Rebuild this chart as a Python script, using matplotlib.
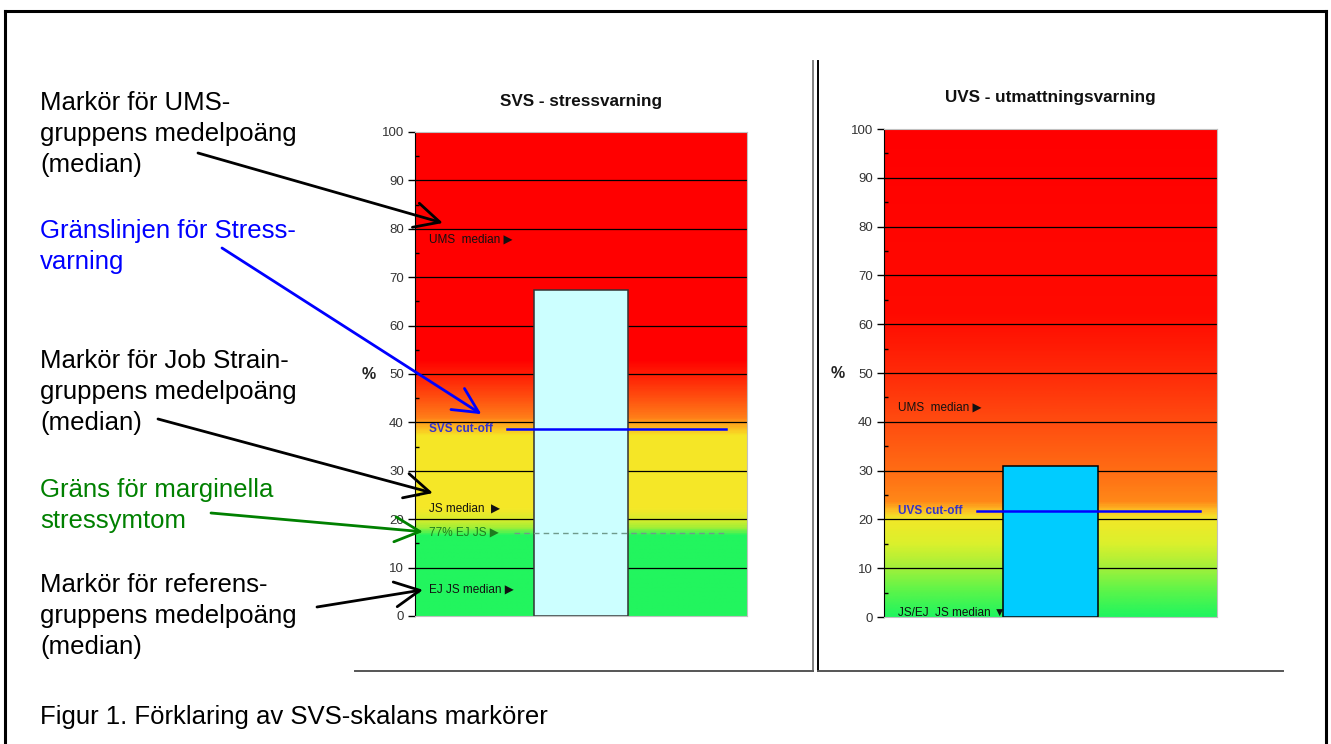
import numpy as np
import matplotlib
matplotlib.use('Agg')
import matplotlib.pyplot as plt
from matplotlib.colors import LinearSegmentedColormap
from matplotlib.lines import Line2D
import matplotlib.transforms as mtransforms

plt.rcParams['font.family'] = ['Liberation Sans', 'DejaVu Sans']

# data
chart_titles = ['SVS - stressvarning', 'UVS - utmattningsvarning']
bar_values = [67.3, 31.0]
bar_colors = ['#ccffff', '#00ccff']
cutoff_labels = ['SVS cut-off', 'UVS cut-off']
cutoff_values = [38.6, 21.8]
marginal_label = '77% EJ JS \u25b6'
marginal_value = 17.2
svs_marker_labels = ['UMS  median \u25b6', 'JS median  \u25b6', 'EJ JS median \u25b6']
svs_marker_values = [77.7, 22.3, 5.4]
uvs_marker_labels = ['UMS  median \u25b6', 'JS/EJ  JS median \u25bc']
uvs_marker_values = [43.0, 0.9]
y_ticks = list(range(0, 101, 10))

left_notes = [
    (['Markör för UMS-', 'gruppens medelpoäng', '(median)'], 'black', 110),
    (['Gränslinjen för Stress-', 'varning'], '#0000ff', 238),
    (['Markör för Job Strain-', 'gruppens medelpoäng', '(median)'], 'black', 368),
    (['Gräns för marginella', 'stressymtom'], '#008000', 497),
    (['Markör för referens-', 'gruppens medelpoäng', '(median)'], 'black', 592),
]
caption = 'Figur 1. Förklaring av SVS-skalans markörer'

# background colour ramps (value, colour)
svs_ramp = [(0, '#22f55e'), (16.5, '#22f55e'), (18.2, '#a6ef36'), (20, '#dcec2c'),
            (22, '#f5e828'), (37.2, '#f6e626'), (39.5, '#ffa81e'), (41, '#ff7c18'),
            (45, '#ff5010'), (50, '#ff1c04'), (53, '#ff0000'), (100, '#ff0000')]
uvs_ramp = [(0, '#22f55e'), (5, '#5af54a'), (10, '#a4f03a'), (15, '#dcf02c'),
            (20, '#f2e828'), (21.5, '#fcc424'), (23.5, '#ff8818'), (30, '#ff6c14'),
            (40, '#ff4c10'), (50, '#ff2a08'), (62, '#ff0a00'), (100, '#ff0000')]

W, H = 1331, 744
fig = plt.figure(figsize=(W / 100, H / 100), dpi=100)
fig.patch.set_facecolor('white')


def fx(x):
    return x / W


def fy(y):
    return 1 - y / H


def make_chart(rect, title, value, color, edge, ramp, cut_label, cut_value, cut_span):
    ax = fig.add_axes(rect)
    cmap = LinearSegmentedColormap.from_list('bg', [(v / 100, c) for v, c in ramp])
    grad = np.linspace(0, 100, 600).reshape(-1, 1)
    ax.imshow(grad, cmap=cmap, extent=(-0.5, 0.5, 0, 100), origin='lower',
              aspect='auto', zorder=0, interpolation='bilinear')
    ax.set_xlim(-0.5, 0.5)
    ax.set_ylim(0, 100)
    ax.hlines(y_ticks[1:-1], -0.5, 0.5, color='black', lw=0.9, zorder=1)
    ax.bar([0], [value], width=0.285, color=color, edgecolor=edge, lw=1.1, zorder=2)
    ax.axhline(cut_value, xmin=cut_span[0], xmax=cut_span[1], color='#0000ff', lw=1.8, zorder=3)
    trans = mtransforms.blended_transform_factory(ax.transAxes, ax.transData)
    ax.text(0.042, cut_value, cut_label, transform=trans, color='#3333cc', fontsize=8.5,
            fontweight='bold', va='center', ha='left', zorder=4)
    ax.set_yticks(y_ticks)
    ax.set_yticks(range(5, 100, 10), minor=True)
    ax.tick_params(axis='y', which='major', direction='out', length=5, width=1,
                   labelsize=9.5, labelcolor='#333333', pad=3)
    ax.tick_params(axis='y', which='minor', direction='in', length=3, width=1)
    ax.set_xticks([])
    ax.spines['left'].set_color('black')
    for s in ['top', 'right', 'bottom']:
        ax.spines[s].set_color('#c0c0c0')
    ax.text(0.5, 1.064, title, transform=ax.transAxes, ha='center', va='center',
            fontsize=12.3, fontweight='bold', color='#111111')
    ax.text(-0.14, 49.8, '%', transform=trans, ha='center', va='center',
            fontsize=11.5, fontweight='bold', color='#222222')
    return ax, trans


ax1, t1 = make_chart([fx(415), fy(616), fx(747) - fx(415), fy(132) - fy(616)],
                     chart_titles[0], bar_values[0], bar_colors[0], '#333333', svs_ramp,
                     cutoff_labels[0], cutoff_values[0], (0.276, 0.937))
for lab, v in zip(svs_marker_labels, svs_marker_values):
    ax1.text(0.042, v, lab, transform=t1, fontsize=8.5, color='#111111', va='center', ha='left')
ax1.axhline(marginal_value, xmin=0.297, xmax=0.935, color='#6f9a8c', lw=1, ls=(0, (4, 3)), zorder=3)
ax1.text(0.042, marginal_value, marginal_label, transform=t1, fontsize=8.5, color='#1f7a1f',
         va='center', ha='left')

ax2, t2 = make_chart([fx(884), fy(617), fx(1217) - fx(884), fy(129) - fy(617)],
                     chart_titles[1], bar_values[1], bar_colors[1], '#000000', uvs_ramp,
                     cutoff_labels[1], cutoff_values[1], (0.28, 0.95))
for lab, v in zip(uvs_marker_labels, uvs_marker_values):
    ax2.text(0.042, v, lab, transform=t2, fontsize=8.5, color='#111111', va='center', ha='left')

# explanation texts on the left
for lines, col, base in left_notes:
    for i, line in enumerate(lines):
        fig.text(fx(40), fy(base + i * 31), line, color=col, fontsize=18.5,
                 ha='left', va='baseline')
fig.text(fx(40), fy(724), caption, color='black', fontsize=18.5, ha='left', va='baseline')

# arrows: (start in figure px, tip (axes x-fraction, value), colour)
arrows = [((198, 153), (0.084, 81.2), 'black'),
          ((222, 248), (0.20, 41.7), '#0000ff'),
          ((158, 419), (0.054, 25.4), 'black'),
          ((211, 513), (0.024, 17.4), '#008000'),
          ((317, 607), (0.024, 5.4), 'black')]
for (sx, sy), tip, col in arrows:
    ax1.annotate('', xy=tip, xycoords=t1, xytext=(fx(sx), fy(sy)), textcoords='figure fraction',
                 arrowprops=dict(arrowstyle='->, head_length=0.9, head_width=0.45', color=col,
                                 lw=2.0, mutation_scale=20, shrinkA=0, shrinkB=0),
                 annotation_clip=False, zorder=6)

# frame and panel separators
frame = [((5, 11), (5, 744)), ((5, 11), (1326, 11)), ((1326, 11), (1326, 744))]
for (x0, y0), (x1, y1) in frame:
    fig.add_artist(Line2D([fx(x0), fx(x1)], [fy(y0), fy(y1)], color='black', lw=2.2))
fig.add_artist(Line2D([fx(813), fx(813)], [fy(61), fy(671)], color='#808080', lw=1.4))
fig.add_artist(Line2D([fx(818), fx(818)], [fy(61), fy(671)], color='black', lw=1.4))
fig.add_artist(Line2D([fx(355), fx(813)], [fy(671), fy(671)], color='#555555', lw=1.4))
fig.add_artist(Line2D([fx(818), fx(1283)], [fy(671), fy(671)], color='#555555', lw=1.4))

fig.savefig('out.png', dpi=100)
